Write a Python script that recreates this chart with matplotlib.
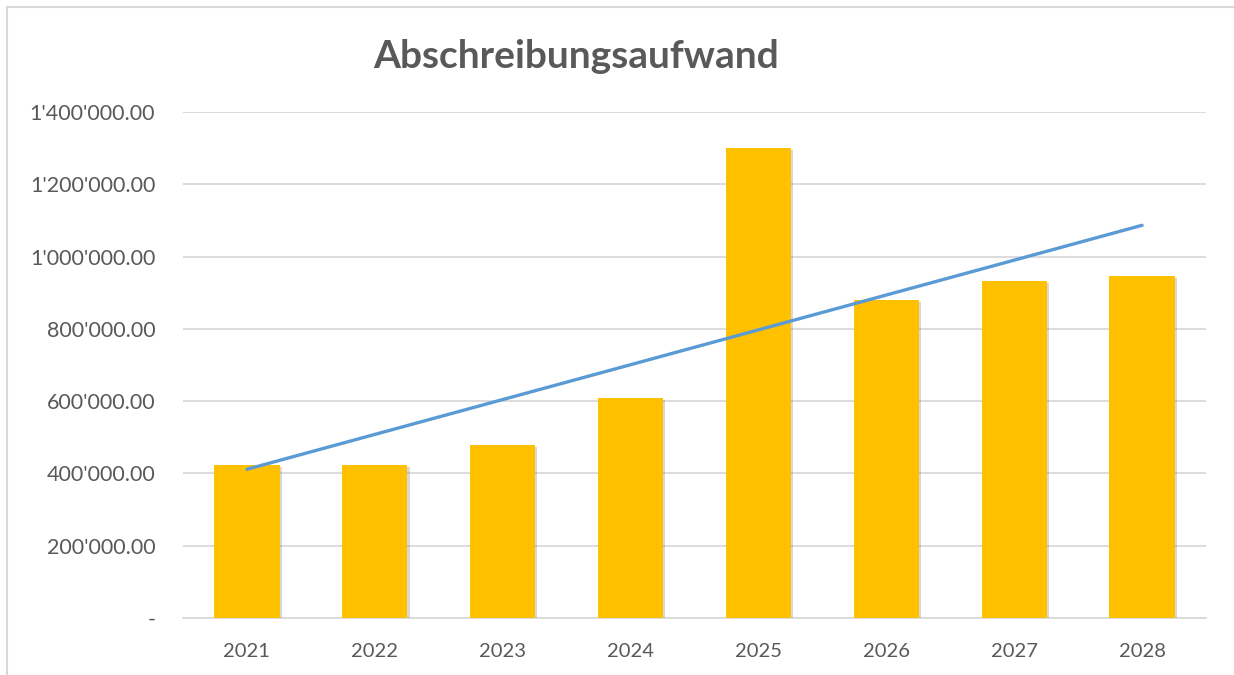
import matplotlib.pyplot as plt
import matplotlib.patheffects as pe
import numpy as np

years = ['2021', '2022', '2023', '2024', '2025', '2026', '2027', '2028']
values = [423000, 423000, 479000, 609000, 1300000, 880000, 932000, 946000]  # Abschreibungsaufwand
yticks = [0, 200000, 400000, 600000, 800000, 1000000, 1200000, 1400000]


def fmt(v):
    if v == 0:
        return '-'
    return '{:,.2f}'.format(v).replace(',', "'")


plt.rcParams['font.family'] = ['Lato', 'DejaVu Sans']

fig = plt.figure(figsize=(12.34, 6.75), dpi=100)
# chart frame
fig.patches.append(plt.Rectangle((7 / 1234, -0.01), 1.0, 1 - 7 / 675 + 0.01, transform=fig.transFigure,
                                 fill=False, edgecolor='#d9d9d9', linewidth=1.5))
ax = fig.add_axes([183 / 1234, 1 - 618 / 675, (1206 - 183) / 1234, (618 - 112) / 675])

x = np.arange(len(years))
bars = ax.bar(x, values, width=0.51, color='#FFC000', zorder=3)
for b in bars:
    b.set_path_effects([pe.SimplePatchShadow(offset=(1.5, -1.5), shadow_rgbFace='#808080', alpha=0.3),
                        pe.Normal()])

# linear trendline
k, d = np.polyfit(x, values, 1)
ax.plot(x, k * x + d, color='#5B9BD5', linewidth=2.4, solid_capstyle='round', zorder=4)

ax.set_xlim(-0.5, len(years) - 0.5)
ax.set_ylim(0, 1400000)
ax.set_xticks(x)
ax.set_xticklabels(years)
ax.set_yticks(yticks)
ax.set_yticklabels([fmt(v) for v in yticks])
ax.tick_params(axis='both', length=0, labelcolor='#595959')
ax.tick_params(axis='x', pad=18, labelsize=14.5)
ax.tick_params(axis='y', pad=20, labelsize=15.5)
ax.grid(axis='y', color='#d9d9d9', linewidth=1.3, zorder=0)
for s in ['top', 'right', 'left']:
    ax.spines[s].set_visible(False)
ax.spines['bottom'].set_color('#d9d9d9')
ax.spines['bottom'].set_linewidth(1.3)

fig.text(576 / 1234, 1 - 56 / 675, 'Abschreibungsaufwand', ha='center', va='center',
         fontsize=28, fontweight='bold', color='#595959')

plt.savefig('out.png', dpi=100)
